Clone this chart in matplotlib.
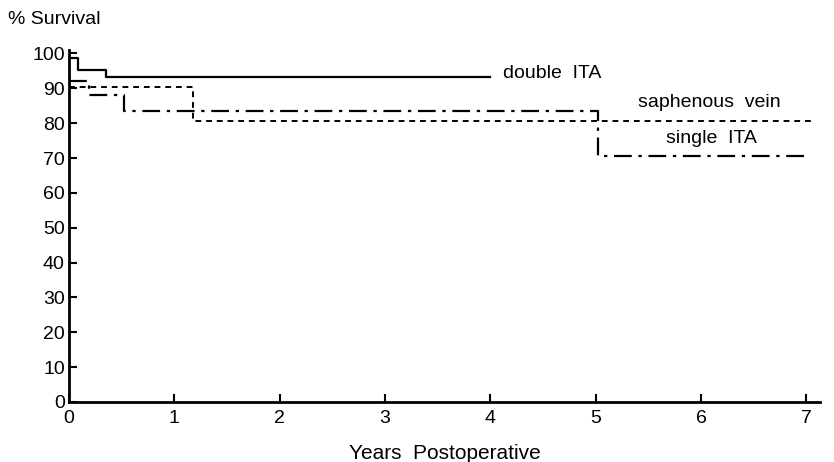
import matplotlib
matplotlib.use("Agg")
import matplotlib.pyplot as plt

plt.rcParams['font.family'] = ['Liberation Sans', 'DejaVu Sans']

double_t = [0, 0.085, 0.35, 4.0]
double_s = [98.8, 95.2, 93.3, 93.3]
single_t = [0, 0.19, 0.52, 5.02, 7.0]
single_s = [92.2, 88.0, 83.5, 70.7, 70.7]
vein_t = [0, 1.18, 7.05]
vein_s = [90.5, 80.7, 80.7]

x_ticks = [0, 1, 2, 3, 4, 5, 6, 7]
y_ticks = [0, 10, 20, 30, 40, 50, 60, 70, 80, 90, 100]

fig = plt.figure(figsize=(8.34, 4.62), dpi=100)
ax = fig.add_axes([69/834, 1-402/462, 751/834, 352/462])

ax.step(double_t, double_s, where='post', color='black', lw=1.6, linestyle='-')
ax.step(single_t, single_s, where='post', color='black', lw=1.6,
        linestyle=(0, (8, 3, 1.5, 3)))
ax.step(vein_t, vein_s, where='post', color='black', lw=1.4,
        linestyle=(0, (3, 2.5)))

ax.text(4.12, 94.4, 'double  ITA', fontsize=14, ha='left', va='center')
ax.text(6.08, 86.0, 'saphenous  vein', fontsize=14, ha='center', va='center')
ax.text(6.1, 75.6, 'single  ITA', fontsize=14, ha='center', va='center')

ax.set_xlim(0, 7.13)
ax.set_ylim(0, 101)
ax.set_xticks(x_ticks)
ax.set_yticks(y_ticks)
ax.tick_params(direction='in', length=6, width=1.5, labelsize=14)
ax.tick_params(axis='x', pad=6)
ax.tick_params(axis='y', pad=3)
for s in ['top', 'right']:
    ax.spines[s].set_visible(False)
for s in ['left', 'bottom']:
    ax.spines[s].set_linewidth(2)

fig.text(8/834, 1-20/462, '% Survival', fontsize=14, ha='left', va='center')
ax.set_xlabel('Years  Postoperative', fontsize=15, labelpad=12)

fig.savefig('out.png', dpi=100)
